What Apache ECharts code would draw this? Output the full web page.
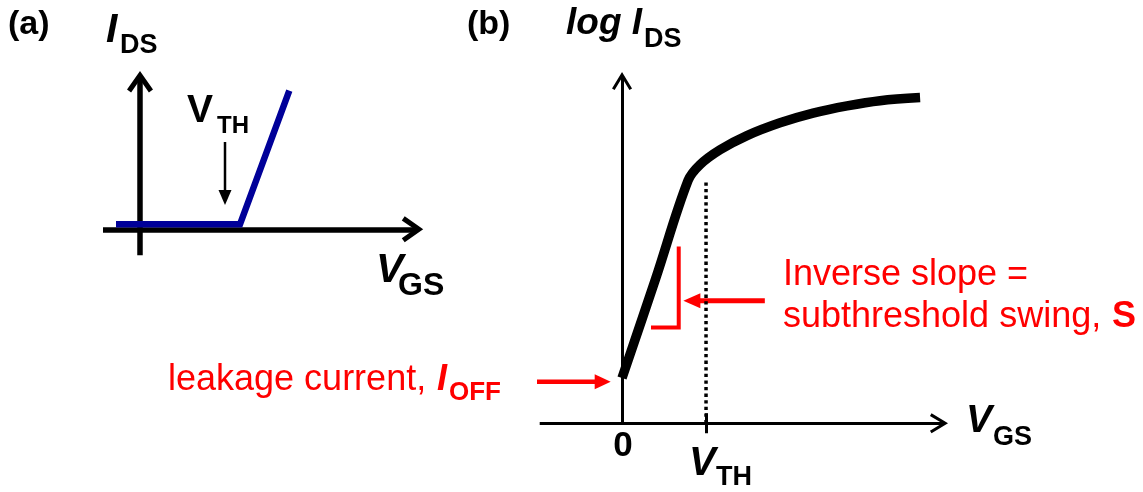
<!DOCTYPE html>
<html>
<head>
<meta charset="utf-8">
<script src="https://cdn.jsdelivr.net/npm/echarts@6/dist/echarts.min.js"></script>
<style>
  html, body { margin: 0; padding: 0; background: #fff; }
  #chart { width: 1143px; height: 492px; }
</style>
</head>
<body>
<div id="chart"></div>
<script>
// ---- Panel (a): linear I_DS versus V_GS (arbitrary units, V_TH = 1) ----
const A_VGS = [-0.24, 1.0, 1.493];
const A_IDS = [0.05, 0.05, 1.386];
const A_VTH_ARROW = [[0.85, 0.873], [0.85, 0.243]];     // tail, tip

// ---- Panel (b): log I_DS versus V_GS (decades, V_TH = 1) ----
const B_VGS  = [0, 0.4, 0.786, 0.929, 1.167, 1.488, 1.881, 2.274, 2.679, 3.071, 3.548];
const B_LOGI = [1.31, 4.18, 7.02, 7.48, 7.91, 8.32, 8.69, 8.97, 9.18, 9.33, 9.42];
const B_VTH = 1;
const B_VTH_TOP = 7.06;                 // top of the dotted V_TH guide
const B_TICKS = [B_VTH];
const B_BRACKET_X = [0.345, 0.675, 0.675];
const B_BRACKET_Y = [2.77, 2.77, 5.11];
const B_S_ARROW = [[1.70, 3.545], [0.73, 3.545]];
const B_OFF_ARROW = [[-1.274, 1.20], [-0.135, 1.20]];

// axis ranges
const A_X = [-0.37, 2.75], A_Y = [-0.26, 1.50];
const B_X = [-0.98, 3.815], B_Y = [0, 10];

// grid boxes (px)
const GA = { left: 103, top: 79.3, width: 312, height: 176 };
const GB = { left: 539.7, top: 77.5, width: 402.8, height: 345.8 };

const pxA = [GA.width / (A_X[1] - A_X[0]), GA.height / (A_Y[1] - A_Y[0])];
const pxB = [GB.width / (B_X[1] - B_X[0]), GB.height / (B_Y[1] - B_Y[0])];

const RED = '#ff0000';
const BLUE = '#000099';
const FONT = '"Liberation Sans", Arial, Helvetica, sans-serif';

// open chevron arrow heads for the axis ends (drawn pointing up)
const CHEV_A = 'path://M13,0L26,18.5L21.9,21.4L13,8.7L4.1,21.4L0,18.5Z';
const CHEV_B = 'path://M10,0L20,16.5L17.4,18.06L10,5.8L2.6,18.06L0,16.5Z';

const zip = (xs, ys) => xs.map((x, i) => [x, ys[i]]);

// straight arrow: shaft as a line, head as a rotated triangle at the tip
function arrow(xi, yi, from, tip, color, width, headW, headL, px) {
  const dx = (tip[0] - from[0]) * px[0];
  const dy = -(tip[1] - from[1]) * px[1];
  const len = Math.hypot(dx, dy);
  const ux = dx / len, uy = dy / len;
  const back = headL * 0.6;
  const shaftEnd = [tip[0] - ux * back / px[0], tip[1] + uy * back / px[1]];
  const angle = Math.atan2(-uy, ux) * 180 / Math.PI - 90;
  return [
    {
      type: 'line', xAxisIndex: xi, yAxisIndex: yi, data: [from, shaftEnd],
      symbol: 'none', clip: false, silent: true, z: 4,
      lineStyle: { color: color, width: width, cap: 'butt' }
    },
    {
      type: 'scatter', xAxisIndex: xi, yAxisIndex: yi, data: [tip],
      symbol: 'triangle', symbolSize: [headW, headL], symbolRotate: angle,
      symbolOffset: [-ux * headL / 2, -uy * headL / 2],
      itemStyle: { color: color, opacity: 1 }, clip: false, silent: true, z: 5
    }
  ];
}

function txt(x, baseline, text, size, weight, fontStyle, color, align) {
  return {
    type: 'text', x: x, y: baseline - 0.3465 * size, silent: true, z: 20,
    style: {
      text: text,
      font: fontStyle + ' ' + weight + ' ' + size + 'px ' + FONT,
      fill: color || '#000',
      textAlign: align || 'left', align: align || 'left',
      textVerticalAlign: 'middle', verticalAlign: 'middle'
    }
  };
}

function axisLine(width, chev, size, offset) {
  return {
    show: true, onZero: true,
    lineStyle: { color: '#000', width: width, cap: 'butt' },
    symbol: ['none', chev], symbolSize: size, symbolOffset: [0, offset]
  };
}

const off = { show: false };

const option = {
  backgroundColor: '#fff',
  animation: false,
  grid: [
    Object.assign({ containLabel: false, outerBoundsMode: 'none' }, GA),
    Object.assign({ containLabel: false, outerBoundsMode: 'none' }, GB)
  ],
  xAxis: [
    { gridIndex: 0, type: 'value', min: A_X[0], max: A_X[1],
      axisLine: axisLine(5.5, CHEV_A, [26, 21.4], -2.5),
      axisTick: off, axisLabel: off, splitLine: off },
    { gridIndex: 1, type: 'value', min: B_X[0], max: B_X[1], position: 'bottom',
      axisLine: axisLine(3.2, CHEV_B, [20, 18.06], -3.5),
      axisTick: { show: true, inside: false, length: 10, customValues: B_TICKS,
                  lineStyle: { color: '#000', width: 3 } },
      axisLabel: off, splitLine: off },
    { gridIndex: 1, type: 'value', min: B_X[0], max: B_X[1], position: 'bottom',
      axisLine: { show: false, onZero: true },
      axisTick: { show: true, inside: true, length: 10, customValues: B_TICKS,
                  lineStyle: { color: '#000', width: 3 } },
      axisLabel: off, splitLine: off }
  ],
  yAxis: [
    { gridIndex: 0, type: 'value', min: A_Y[0], max: A_Y[1],
      axisLine: axisLine(5.5, CHEV_A, [26, 21.4], -2.5),
      axisTick: off, axisLabel: off, splitLine: off },
    { gridIndex: 1, type: 'value', min: B_Y[0], max: B_Y[1],
      axisLine: axisLine(3, CHEV_B, [20, 18.06], -3.5),
      axisTick: off, axisLabel: off, splitLine: off }
  ],
  series: [
    // (a) linear transfer characteristic
    { type: 'line', xAxisIndex: 0, yAxisIndex: 0, data: zip(A_VGS, A_IDS),
      symbol: 'none', silent: true, z: 3,
      lineStyle: { color: BLUE, width: 6.5, cap: 'butt', join: 'miter' } },
    ...arrow(0, 0, A_VTH_ARROW[0], A_VTH_ARROW[1], '#000', 2.5, 13, 15, pxA),

    // (b) dotted V_TH guide
    { type: 'line', xAxisIndex: 1, yAxisIndex: 1,
      data: [[B_VTH, 0], [B_VTH, B_VTH_TOP]], symbol: 'none', silent: true, z: 6,
      lineStyle: { color: '#000', width: 3.5, type: [3.3, 3.3], cap: 'butt' } },
    // (b) subthreshold + on-state curve
    { type: 'line', xAxisIndex: 1, yAxisIndex: 1, data: zip(B_VGS, B_LOGI),
      symbol: 'none', smooth: 0.35, silent: true, z: 3,
      lineStyle: { color: '#000', width: 9.5, cap: 'butt', join: 'round' } },
    // (b) slope bracket
    { type: 'line', xAxisIndex: 1, yAxisIndex: 1, data: zip(B_BRACKET_X, B_BRACKET_Y),
      symbol: 'none', silent: true, z: 4,
      lineStyle: { color: RED, width: 4, cap: 'butt', join: 'miter' } },
    ...arrow(1, 1, B_S_ARROW[0], B_S_ARROW[1], RED, 5, 15, 17, pxB),
    ...arrow(1, 1, B_OFF_ARROW[0], B_OFF_ARROW[1], RED, 4.5, 15, 16, pxB)
  ],
  graphic: [
    // panel (a)
    txt(8, 36, '(a)', 34, 'bold', 'normal'),
    txt(106, 45, 'I', 41, 'bold', 'italic'),
    txt(120, 55, 'DS', 27, 'bold', 'normal'),
    txt(187, 125, 'V', 39, 'bold', 'normal'),
    txt(217, 135, 'TH', 24, 'bold', 'normal'),
    txt(376, 285, 'V', 41, 'bold', 'italic'),
    txt(398, 297, 'GS', 32, 'bold', 'normal'),
    // panel (b)
    txt(467, 36, '(b)', 34, 'bold', 'normal'),
    txt(566, 37, 'log I', 37, 'bold', 'italic'),
    txt(644, 49, 'DS', 27, 'bold', 'normal'),
    txt(783, 288, 'Inverse slope =', 36, 'normal', 'normal', RED),
    txt(783, 330, 'subthreshold swing, ', 36, 'normal', 'normal', RED),
    txt(1112, 330, 'S', 36, 'bold', 'normal', RED),
    txt(168, 393, 'leakage current, ', 36, 'normal', 'normal', RED),
    txt(437, 393, 'I', 36, 'bold', 'italic', RED),
    txt(449, 402, 'OFF', 26, 'bold', 'normal', RED),
    txt(966, 435, 'V', 39, 'bold', 'italic'),
    txt(993, 447, 'GS', 27, 'bold', 'normal'),
    txt(623, 458, '0', 35, 'bold', 'normal', '#000', 'center'),
    txt(689, 478, 'V', 40, 'bold', 'italic'),
    txt(716, 487, 'TH', 27, 'bold', 'normal')
  ]
};

const chart = echarts.init(document.getElementById('chart'), null, { renderer: 'canvas' });
chart.setOption(option);
</script>
</body>
</html>
